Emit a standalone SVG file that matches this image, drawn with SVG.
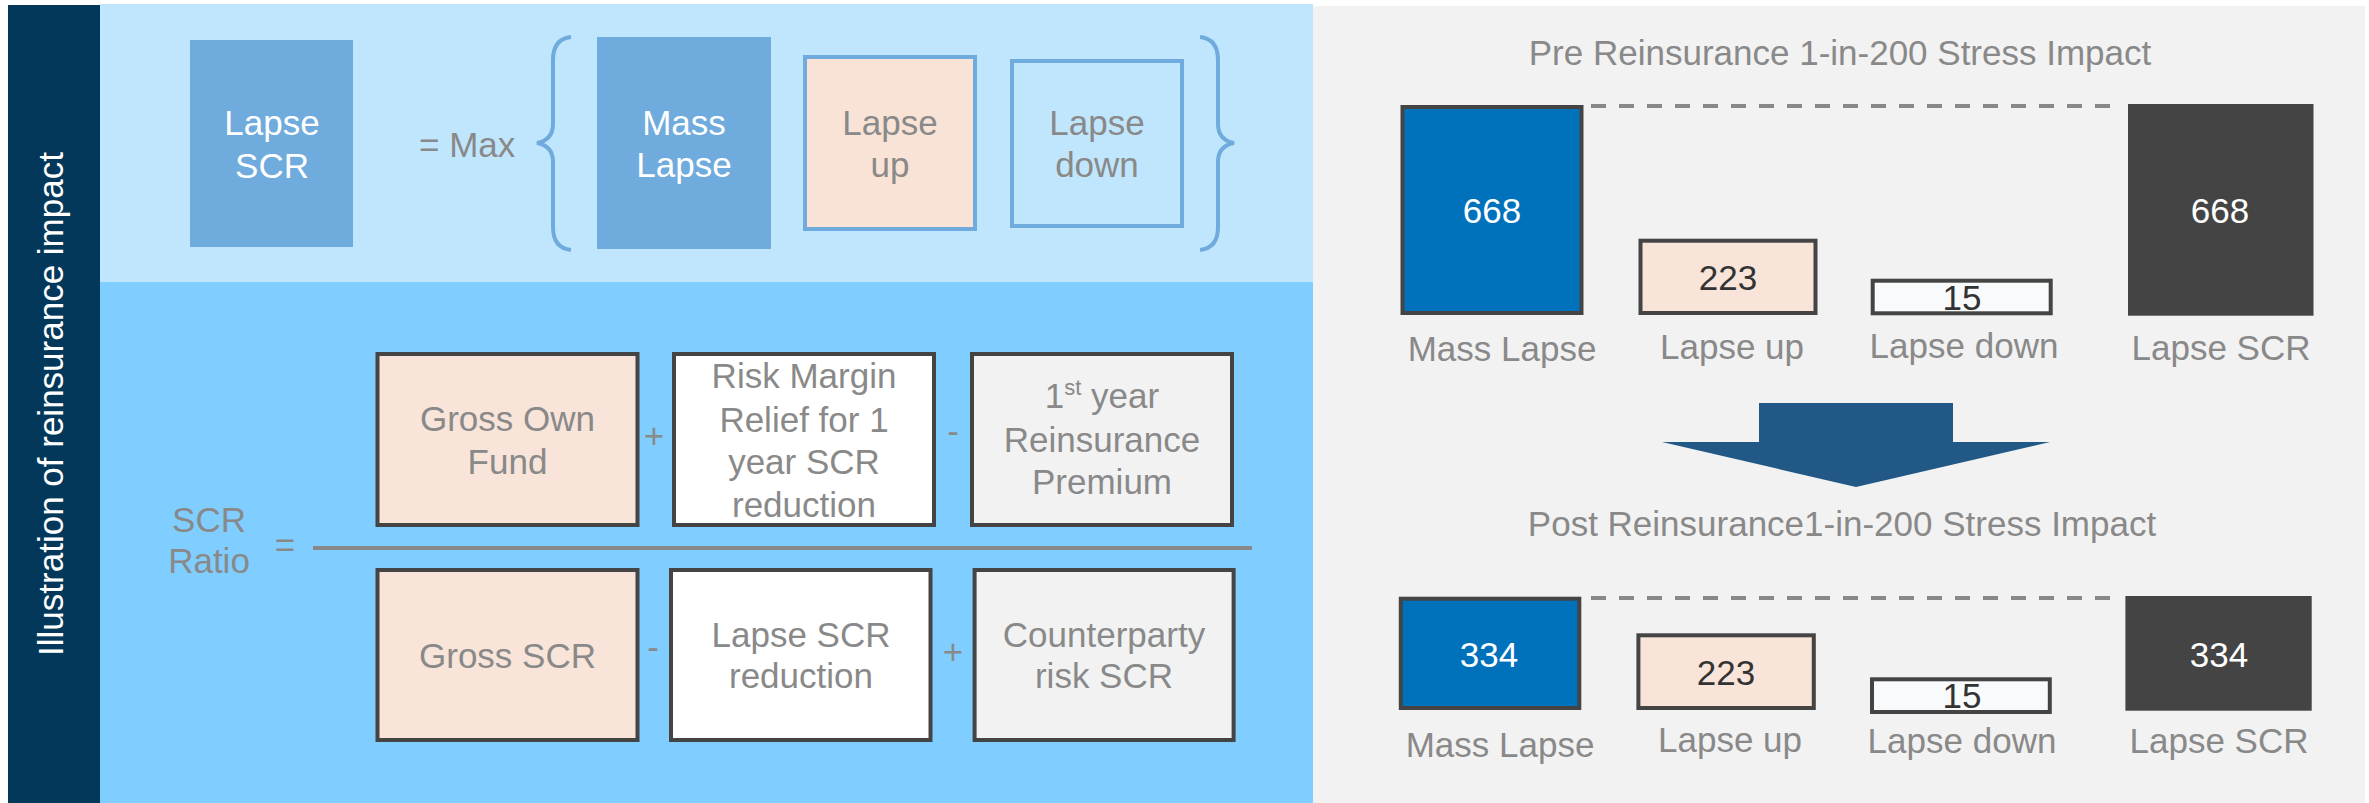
<svg xmlns="http://www.w3.org/2000/svg" width="2369" height="803" viewBox="0 0 2369 803">
<style>
text{font-family:"Liberation Sans",Arial,sans-serif;font-size:35px}
.g{fill:#898989}
.w{fill:#ffffff}
.d{fill:#333333}
.m{text-anchor:middle}
.bx{stroke:#444444;stroke-width:4}
.bl{stroke:#6FABDC;stroke-width:4}
.br{fill:none;stroke:#6FABDC;stroke-width:4}
.dash{stroke:#888888;stroke-width:4;stroke-dasharray:15 13}
</style>
<rect x="0" y="0" width="2369" height="803" fill="#ffffff"/>
<g id="panels">
<rect x="8" y="5" width="92" height="798" fill="#03385A"/>
<rect x="100" y="4" width="1213" height="278" fill="#C0E6FD"/>
<rect x="100" y="282" width="1213" height="521" fill="#80CDFF"/>
<rect x="1313" y="6" width="1052" height="797" fill="#F2F2F2"/>
<text class="w m" transform="translate(63,404) rotate(-90)">Illustration of reinsurance impact</text>
</g>
<g id="lapse-scr">
<rect x="190" y="40" width="163" height="207" fill="#6FABDC"/>
<text class="w m" x="272" y="135">Lapse</text>
<text class="w m" x="272" y="178">SCR</text>
</g>
<text class="g" x="419" y="157">= Max</text>
<path class="br" d="M571,37 Q553,39 553,60 L553,124 Q553,140 537,143 Q553,146 553,162 L553,227 Q553,248 571,250"/>
<path class="br" d="M1200,37 Q1218,39 1218,60 L1218,124 Q1218,140 1234,143 Q1218,146 1218,162 L1218,227 Q1218,248 1200,250"/>
<g id="mass-lapse">
<rect x="597" y="37" width="174" height="212" fill="#6FABDC"/>
<text class="w m" x="684" y="135">Mass</text>
<text class="w m" x="684" y="177">Lapse</text>
</g>
<g id="lapse-up">
<rect class="bl" x="805" y="57" width="170" height="172" fill="#F8E3D6"/>
<text class="g m" x="890" y="135">Lapse</text>
<text class="g m" x="890" y="177">up</text>
</g>
<g id="lapse-down">
<rect class="bl" x="1012" y="61" width="170" height="165" fill="#C0E6FD"/>
<text class="g m" x="1097" y="135">Lapse</text>
<text class="g m" x="1097" y="177">down</text>
</g>
<g id="scr-ratio">
<text class="g m" x="209" y="532">SCR</text>
<text class="g m" x="209" y="573">Ratio</text>
<text class="g m" x="285" y="557">=</text>
</g>
<g id="connectors">
<line x1="313" y1="548" x2="1252" y2="548" stroke="#888888" stroke-width="4"/>
<text class="g m" x="654" y="448">+</text>
<text class="g m" x="953" y="443">-</text>
<text class="g m" x="653" y="659">-</text>
<text class="g m" x="953" y="664">+</text>
<line class="dash" x1="1591" y1="106" x2="2112" y2="106"/>
<line class="dash" x1="1591" y1="598" x2="2112" y2="598"/>
<polygon points="1759,403 1953,403 1953,442 2050,442 1856,487 1662,442 1759,442" fill="#215886"/>
</g>
<g id="gross-own-fund">
<rect class="bx" x="377.5" y="354" width="260" height="171" fill="#F8E4D8"/>
<text class="g m" x="507.5" y="431">Gross Own</text>
<text class="g m" x="507.5" y="474">Fund</text>
</g>
<g id="risk-margin">
<rect class="bx" x="674" y="354" width="260" height="171" fill="#ffffff"/>
<text class="g m" x="804" y="388">Risk Margin</text>
<text class="g m" x="804" y="432">Relief for 1</text>
<text class="g m" x="804" y="474">year SCR</text>
<text class="g m" x="804" y="517">reduction</text>
</g>
<g id="first-year-premium">
<rect class="bx" x="972" y="354" width="260" height="171" fill="#F2F2F2"/>
<text class="g m" x="1102" y="408">1<tspan font-size="22" dy="-13">st</tspan><tspan dy="13"> year</tspan></text>
<text class="g m" x="1102" y="452">Reinsurance</text>
<text class="g m" x="1102" y="494">Premium</text>
</g>
<g id="gross-scr">
<rect class="bx" x="377.5" y="570" width="260" height="170" fill="#F8E4D8"/>
<text class="g m" x="507.5" y="668">Gross SCR</text>
</g>
<g id="lapse-scr-reduction">
<rect class="bx" x="671" y="570" width="259.5" height="170" fill="#ffffff"/>
<text class="g m" x="801" y="647">Lapse SCR</text>
<text class="g m" x="801" y="688">reduction</text>
</g>
<g id="counterparty-risk">
<rect class="bx" x="974.6" y="570" width="259" height="170" fill="#F2F2F2"/>
<text class="g m" x="1104" y="647">Counterparty</text>
<text class="g m" x="1104" y="688">risk SCR</text>
</g>
<g id="pre-chart">
<text class="g m" x="1840" y="65">Pre Reinsurance 1-in-200 Stress Impact</text>
<rect class="bx" x="1402.5" y="107" width="179" height="206" fill="#0071BB"/>
<text class="w m" x="1492" y="223">668</text>
<text class="g m" x="1502" y="361">Mass Lapse</text>
<rect class="bx" x="1640.5" y="240.7" width="175" height="72.3" fill="#F8E4D8"/>
<text class="d m" x="1728" y="290">223</text>
<text class="g m" x="1732" y="359">Lapse up</text>
<rect class="bx" x="1872.7" y="280.7" width="178" height="32.6" fill="#F9FAFC"/>
<text class="d m" x="1962" y="310">15</text>
<text class="g m" x="1964" y="358">Lapse down</text>
<rect x="2128" y="104" width="185.5" height="211.7" fill="#444444"/>
<text class="w m" x="2220" y="223">668</text>
<text class="g m" x="2221" y="360">Lapse SCR</text>
</g>
<g id="post-chart">
<text class="g m" x="1842" y="536">Post Reinsurance1-in-200 Stress Impact</text>
<rect class="bx" x="1400.8" y="598.7" width="178.5" height="109.3" fill="#0071BB"/>
<text class="w m" x="1489" y="667">334</text>
<text class="g m" x="1500" y="757">Mass Lapse</text>
<rect class="bx" x="1638.4" y="635.3" width="175.4" height="72.7" fill="#F8E4D8"/>
<text class="d m" x="1726" y="685">223</text>
<text class="g m" x="1730" y="752">Lapse up</text>
<rect class="bx" x="1872" y="679.3" width="177.8" height="32.7" fill="#F9FAFC"/>
<text class="d m" x="1962" y="708">15</text>
<text class="g m" x="1962" y="753">Lapse down</text>
<rect x="2125.4" y="596" width="186.3" height="114.7" fill="#444444"/>
<text class="w m" x="2219" y="667">334</text>
<text class="g m" x="2219" y="753">Lapse SCR</text>
</g>
</svg>
